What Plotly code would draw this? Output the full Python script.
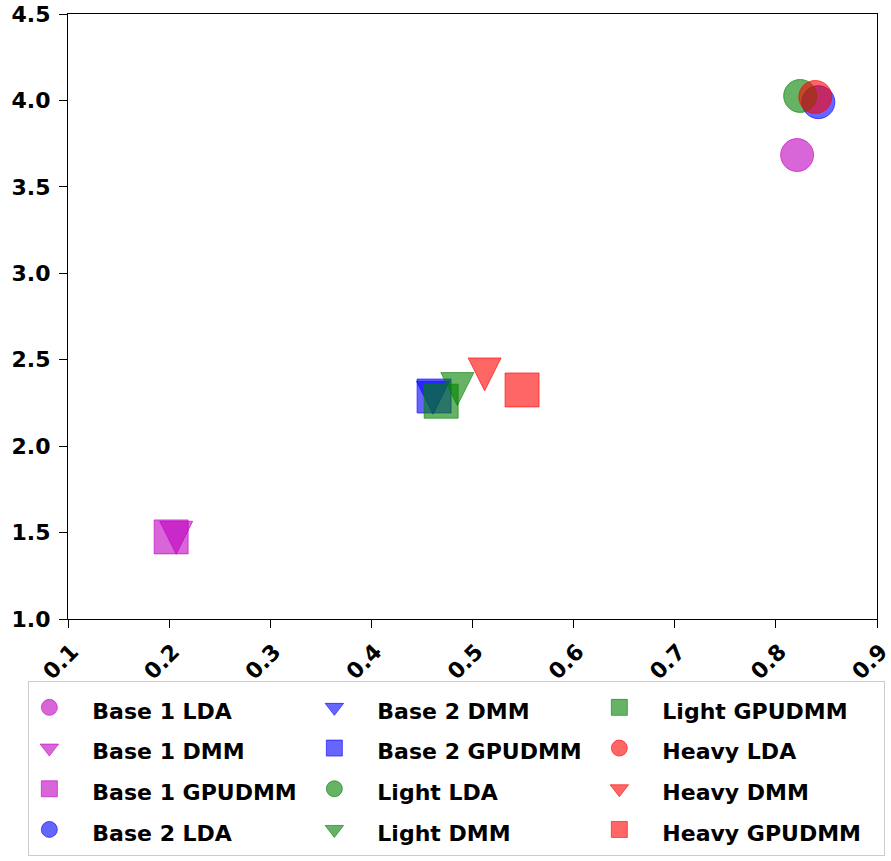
import plotly.graph_objects as go

groups = ["Base 1", "Base 2", "Light", "Heavy"]
models = ["LDA", "DMM", "GPUDMM"]

x_base1 = [0.821, 0.207, 0.202]
y_base1 = [3.684, 1.47, 1.475]
x_base2 = [0.842, 0.461, 0.462]
y_base2 = [3.99, 2.28, 2.29]
x_light = [0.824, 0.485, 0.469]
y_light = [4.026, 2.33, 2.26]
x_heavy = [0.839, 0.512, 0.549]
y_heavy = [4.02, 2.415, 2.325]

xs = [x_base1, x_base2, x_light, x_heavy]
ys = [y_base1, y_base2, y_light, y_heavy]

colors = ["rgba(191,0,191,0.6)", "rgba(0,0,255,0.6)", "rgba(0,128,0,0.6)", "rgba(255,0,0,0.6)"]
plot_symbols = {"LDA": "circle", "DMM": "arrow-down", "GPUDMM": "square"}
legend_symbols = {"LDA": "circle", "DMM": "triangle-down", "GPUDMM": "square"}
sizes = {"LDA": 33, "DMM": 33, "GPUDMM": 34}

x_ticks = [0.1, 0.2, 0.3, 0.4, 0.5, 0.6, 0.7, 0.8, 0.9]
y_ticks = [1.0, 1.5, 2.0, 2.5, 3.0, 3.5, 4.0, 4.5]

FONT = "DejaVu Sans"
PAD = "&nbsp;&nbsp;&nbsp;"

fig = go.Figure()
i = 0
for gi, g in enumerate(groups):
    for mi, m in enumerate(models):
        col, row = i // 4, i % 4
        rank = row * 3 + col
        label = "%s %s" % (g, m)
        marker = dict(
            color=colors[gi],
            symbol=plot_symbols[m],
            size=sizes[m],
            line=dict(color=colors[gi], width=1),
        )
        if m == "DMM":
            marker["standoff"] = sizes[m] / 2
        # data mark (legend entry drawn separately so the symbol shows correctly)
        fig.add_trace(go.Scatter(
            x=[xs[gi][mi]], y=[ys[gi][mi]],
            mode="markers", name=label, marker=marker,
            showlegend=False, legendgroup=label,
        ))
        # legend entry
        fig.add_trace(go.Scatter(
            x=[None], y=[None], mode="markers",
            name='<span style="font-size:22px"><b>%s%s</b></span>' % (PAD, label),
            marker=dict(color=colors[gi], symbol=legend_symbols[m], size=sizes[m],
                        line=dict(color=colors[gi], width=1)),
            legendgroup=label, legendrank=rank + 1, hoverinfo="skip",
        ))
        i += 1

axis_common = dict(
    showline=True, linecolor="black", linewidth=1.2, mirror=True,
    ticks="outside", ticklen=8, tickwidth=1.2, tickcolor="black",
    showgrid=False, zeroline=False, ticklabeloverflow="allow",
    tickfont=dict(family=FONT, size=22, color="black", weight="bold"),
)

fig.update_xaxes(range=[0.1, 0.9], tickvals=x_ticks, ticktext=["%.1f" % v for v in x_ticks],
                 tickangle=-45, ticklabelshift=4, ticklabelstandoff=2, **axis_common)
fig.update_yaxes(range=[1.0, 4.5], tickvals=y_ticks, ticktext=["%.1f" % v for v in y_ticks],
                 ticklabelstandoff=4, **axis_common)

fig.update_layout(
    width=891, height=861,
    margin=dict(l=68, r=14, t=14, b=242, autoexpand=False),
    plot_bgcolor="white", paper_bgcolor="white",
    font=dict(family=FONT, color="black"),
    showlegend=True,
    legend=dict(
        orientation="h",
        x=-0.049, xanchor="left",
        y=-0.1025, yanchor="top",
        entrywidth=240, entrywidthmode="pixels",
        font=dict(family=FONT, size=29, color="black"),
        bordercolor="#cccccc", borderwidth=1, bgcolor="rgba(255,255,255,0.8)",
        traceorder="normal", tracegroupgap=0,
    ),
)

fig.write_html("out.html", config={"displayModeBar": False},
               post_script="document.body.style.margin='0px';")
